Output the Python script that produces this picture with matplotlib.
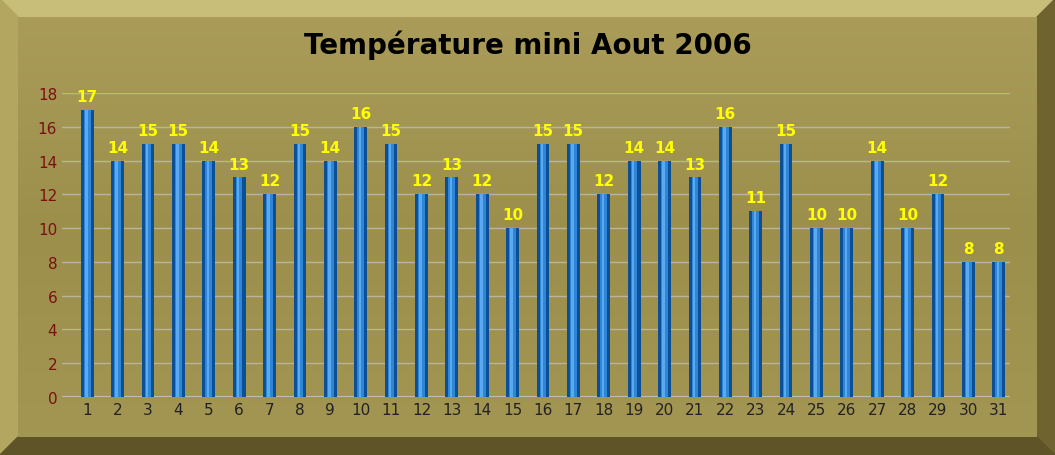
import numpy as np
import matplotlib.pyplot as plt
from matplotlib.patches import Polygon

days = [str(d) for d in range(1, 32)]
temps = [17, 14, 15, 15, 14, 13, 12, 15, 14, 16, 15, 12, 13, 12, 10, 15,
         15, 12, 14, 14, 13, 16, 11, 15, 10, 10, 14, 10, 12, 8, 8]
title = "Température mini Aout 2006"

fig = plt.figure(figsize=(10.55, 4.56), dpi=100)

# background with bevelled frame
bg = fig.add_axes([0, 0, 1, 1])
bg.axis("off")
bg.add_patch(Polygon([(0, 0), (1055, 0), (1055, 456), (0, 456)], color="#8a7d3e"))
b = 18
bg.add_patch(Polygon([(0, 0), (1055, 0), (1055 - b, b), (b, b)], color="#c9bd7a"))
bg.add_patch(Polygon([(0, 0), (b, b), (b, 456 - b), (0, 456)], color="#b3a660"))
bg.add_patch(Polygon([(1055, 0), (1055, 456), (1055 - b, 456 - b), (1055 - b, b)], color="#6f6430"))
bg.add_patch(Polygon([(0, 456), (1055, 456), (1055 - b, 456 - b), (b, 456 - b)], color="#5e5428"))
grad = np.linspace(0, 1, 100).reshape(-1, 1)
bg.imshow(grad, extent=(b, 1055 - b, 456 - b, b), cmap=plt.matplotlib.colors.LinearSegmentedColormap.from_list(
    "g", ["#aa9c58", "#9c8f4c", "#a39552"]), aspect="auto", zorder=1)
bg.set_xlim(0, 1055)
bg.set_ylim(456, 0)

ax = fig.add_axes([62 / 1055, 58 / 456, 948 / 1055, 304 / 456])
ax.patch.set_alpha(0)
x = np.arange(len(days))
ax.bar(x, temps, width=0.42, color="#0d4f96", zorder=3)
ax.bar(x, temps, width=0.22, color="#2f86d6", zorder=4)
ax.bar(x - 0.03, temps, width=0.08, color="#5aaaf0", zorder=5)
for xi, t in zip(x, temps):
    ax.text(xi, t + 0.35, str(t), ha="center", va="bottom", color="#ffff00",
            fontsize=11, fontweight="bold", zorder=6)
ax.set_xlim(-0.83, len(days) - 0.63)
ax.set_ylim(0, 18)
ax.set_yticks(range(0, 19, 2))
ax.set_xticks(x)
ax.set_xticklabels(days)
ax.tick_params(axis="y", colors="#7a1010", labelsize=11, length=0)
ax.tick_params(axis="x", colors="#222222", labelsize=11, length=0)
ax.grid(axis="y", color="#b8b4a0", linewidth=1, zorder=0)
for s in ax.spines.values():
    s.set_visible(False)
ax.axhline(0, color="#c0bca8", linewidth=1.5)

fig.text(0.5, 0.9, title, ha="center", va="center", fontsize=20, fontweight="bold", color="black")
fig.savefig("out.png", dpi=100)
